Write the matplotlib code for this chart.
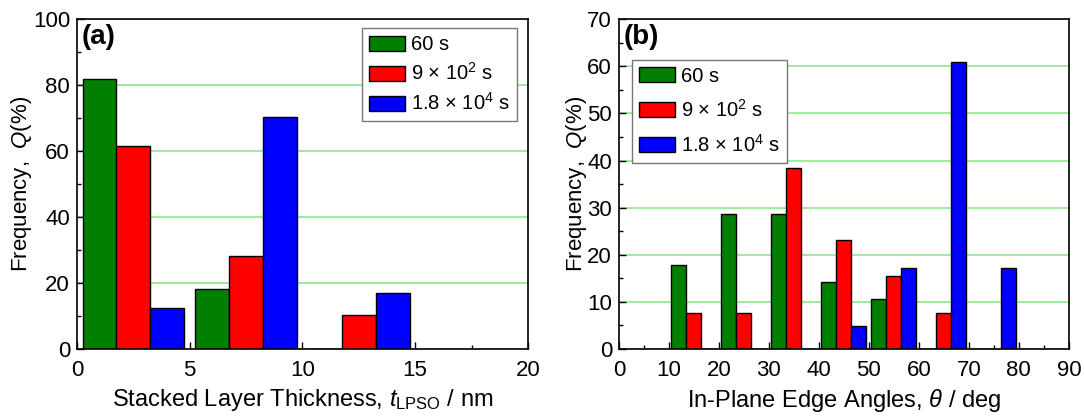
import matplotlib
matplotlib.use('Agg')
import matplotlib.pyplot as plt
from matplotlib.ticker import MultipleLocator

plt.rcParams['font.family'] = ['Liberation Sans', 'DejaVu Sans']
plt.rcParams['mathtext.fontset'] = 'custom'
plt.rcParams['mathtext.rm'] = 'Liberation Sans'
plt.rcParams['mathtext.it'] = 'Liberation Sans:italic'
plt.rcParams['mathtext.bf'] = 'Liberation Sans:bold'

# series labels and colours
labels = ['60 s', '9 × 10$^{2}$ s', '1.8 × 10$^{4}$ s']
colors = ['#007f00', '#ff0000', '#0000ff']

# (a) stacked layer thickness histogram
thick_bins = [2.5, 7.5, 12.5]
thick_60 = [81.8, 18.2, 0.0]
thick_900 = [61.5, 28.2, 10.3]
thick_18000 = [12.5, 70.3, 17.0]

# (b) in-plane edge angle histogram
angle_bins = [15, 25, 35, 45, 55, 65, 75]
angle_60 = [17.9, 28.6, 28.6, 14.3, 10.7, 0.0, 0.0]
angle_900 = [7.7, 7.7, 38.5, 23.1, 15.4, 7.7, 0.0]
angle_18000 = [0.0, 0.0, 0.0, 4.9, 17.1, 60.9, 17.1]


def draw_groups(ax, centers, series, width):
    handles = []
    for k, (vals, c, lab) in enumerate(zip(series, colors, labels)):
        xs = [x + (k - 1) * width for x in centers]
        h = ax.bar(xs, vals, width=width, color=c, edgecolor='black',
                   linewidth=1.0, label=lab, zorder=2)
        handles.append(h)
    return handles


def style_axes(ax, xmax, ymax, xmaj, xmin, ymaj, ymin):
    ax.set_xlim(0, xmax)
    ax.set_ylim(0, ymax)
    ax.xaxis.set_major_locator(MultipleLocator(xmaj))
    ax.xaxis.set_minor_locator(MultipleLocator(xmin))
    ax.yaxis.set_major_locator(MultipleLocator(ymaj))
    ax.yaxis.set_minor_locator(MultipleLocator(ymin))
    ax.tick_params(which='both', direction='in', labelsize=16, width=1.0)
    ax.tick_params(which='major', length=5)
    ax.tick_params(which='minor', length=3)
    ax.tick_params(axis='x', pad=8)
    ax.tick_params(axis='y', pad=5)
    ax.yaxis.grid(True, color='#8fe88f', linewidth=1.2)
    ax.set_axisbelow(True)
    for s in ax.spines.values():
        s.set_linewidth(1.2)
    ax.set_ylabel('Frequency,  $Q$(%)', fontsize=16, labelpad=-1)


def add_legend(ax, **kw):
    ax.legend(fontsize=14.5, frameon=True, fancybox=False, edgecolor='#777777',
              framealpha=1, handlelength=1.8, handleheight=0.75,
              handletextpad=0.3, borderpad=0.35, borderaxespad=0.2, **kw)


fig = plt.figure(figsize=(10.84, 4.18), dpi=100)
ax1 = fig.add_axes([0.071, 0.165, 0.416, 0.789])
ax2 = fig.add_axes([0.571, 0.165, 0.415, 0.789])

draw_groups(ax1, thick_bins, [thick_60, thick_900, thick_18000], 1.5)
style_axes(ax1, 20, 100, 5, 2.5, 20, 10)
ax1.set_xlabel(r'Stacked Layer Thickness, $t_{\mathrm{LPSO}}$ / nm', fontsize=17)
ax1.text(0.01, 0.985, '(a)', transform=ax1.transAxes, fontsize=20,
         fontweight='bold', va='top', ha='left')
add_legend(ax1, loc='upper right', bbox_to_anchor=(0.985, 0.985),
           labelspacing=0.4)

draw_groups(ax2, angle_bins, [angle_60, angle_900, angle_18000], 3)
style_axes(ax2, 90, 70, 10, 5, 10, 5)
ax2.set_xlabel(r'In-Plane Edge Angles, $\theta$ / deg', fontsize=17)
ax2.text(0.01, 0.985, '(b)', transform=ax2.transAxes, fontsize=20,
         fontweight='bold', va='top', ha='left')
add_legend(ax2, loc='upper left', bbox_to_anchor=(0.02, 0.89),
           labelspacing=0.65)

fig.savefig('out.png', dpi=100)
